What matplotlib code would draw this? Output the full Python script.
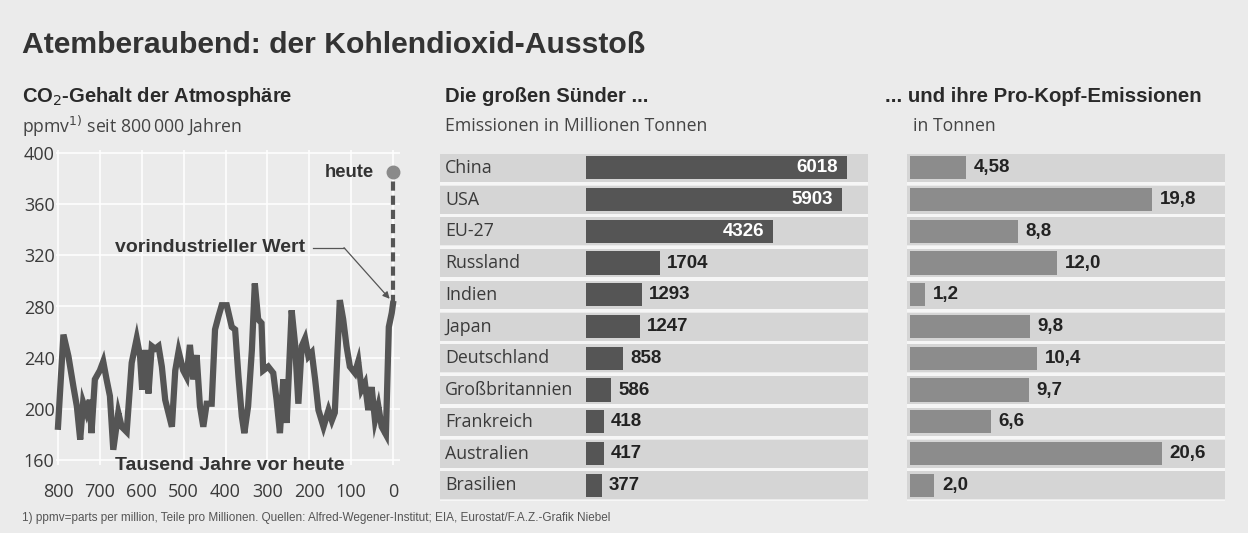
import matplotlib
matplotlib.use('Agg')
import matplotlib.pyplot as plt
from matplotlib import font_manager as fm


def pick(names):
    for n in names:
        try:
            fm.findfont(fm.FontProperties(family=n), fallback_to_default=False)
            return n
        except Exception:
            pass
    return 'DejaVu Sans'


HEAD = pick(['Liberation Sans', 'DejaVu Sans'])
BODY = pick(['Open Sans', 'Noto Sans', 'DejaVu Sans'])
NARROW = pick(['Liberation Sans Narrow', 'Liberation Sans', 'DejaVu Sans'])

# ---------------- data ----------------
co2_ka = [800, 787, 775, 763, 755, 747, 740, 732, 724, 720,
          712, 700, 692, 684, 676, 668, 656, 648, 636, 624,
          612, 604, 599, 591, 584, 576, 568, 560, 552, 544,
          528, 520, 512, 501, 493, 485, 477, 469, 461, 453,
          445, 433, 425, 417, 409, 397, 385, 377, 369, 361,
          355, 346, 337, 330, 322, 314, 310, 298, 286, 278,
          270, 262, 254, 242, 234, 226, 218, 210, 202, 194,
          186, 178, 166, 154, 146, 139, 127, 119, 111, 103,
          91, 83, 75, 67, 59, 51, 43, 35, 27, 17,
          10, 3, 0]
co2_ppm = [186, 258, 241, 217, 202, 176, 205, 197, 207, 181,
           223, 230, 237, 223, 210, 168, 197, 186, 182, 236,
           255, 241, 215, 246, 212, 249, 247, 249, 233, 207,
           186, 230, 245, 230, 225, 250, 223, 242, 202, 186,
           204, 204, 262, 272, 281, 281, 264, 262, 225, 194,
           181, 202, 246, 298, 270, 267, 230, 233, 228, 207,
           181, 223, 189, 277, 251, 204, 249, 255, 241, 244,
           223, 199, 186, 199, 191, 197, 285, 270, 249, 233,
           228, 237, 215, 220, 199, 217, 191, 202, 186, 180,
           264, 275, 282]
today_ppm = 385
preindustrial_ppm = 282
co2_yticks = [160, 200, 240, 280, 320, 360, 400]
co2_xticks = [800, 700, 600, 500, 400, 300, 200, 100, 0]

countries = ['China', 'USA', 'EU-27', 'Russland', 'Indien', 'Japan', 'Deutschland',
             'Großbritannien', 'Frankreich', 'Australien', 'Brasilien']
emissions = [6018, 5903, 4326, 1704, 1293, 1247, 858, 586, 418, 417, 377]
per_capita = [4.58, 19.8, 8.8, 12.0, 1.2, 9.8, 10.4, 9.7, 6.6, 20.6, 2.0]
per_capita_labels = ['4,58', '19,8', '8,8', '12,0', '1,2', '9,8', '10,4', '9,7',
                     '6,6', '20,6', '2,0']

# ---------------- figure ----------------
W, H = 1248, 533
BG = '#ebebeb'
fig = plt.figure(figsize=(W / 100, H / 100), dpi=100, facecolor=BG)


def px_axes(x0, y0, x1, y1):
    return fig.add_axes([x0 / W, 1 - y1 / H, (x1 - x0) / W, (y1 - y0) / H])


def ftext(x, y, s, **kw):
    return fig.text(x / W, 1 - y / H, s, **kw)


# titles
ftext(22, 45, 'Atemberaubend: der Kohlendioxid-Ausstoß', family=HEAD, weight='bold',
      fontsize=21.7, color='#333333', va='center', ha='left')
ftext(22, 97, 'CO$_2$-Gehalt der Atmosphäre', family=HEAD, weight='bold',
      fontsize=14.5, color='#2a2a2a', va='center')
ftext(22, 126, 'ppmv$^{1)}$ seit 800\u2009000 Jahren', family=BODY, fontsize=12.7,
      color='#444444', va='center')
ftext(445, 97, 'Die großen Sünder ...', family=HEAD, weight='bold',
      fontsize=14.6, color='#2a2a2a', va='center')
ftext(445, 126, 'Emissionen in Millionen Tonnen', family=BODY, fontsize=12.7,
      color='#444444', va='center')
ftext(885, 97, '... und ihre Pro-Kopf-Emissionen', family=HEAD, weight='bold',
      fontsize=14.7, color='#2a2a2a', va='center')
ftext(913, 126, 'in Tonnen', family=BODY, fontsize=12.7, color='#444444', va='center')
ftext(22, 518, '1) ppmv=parts per million, Teile pro Millionen. Quellen: Alfred-Wegener-Institut; '
      'EIA, Eurostat/F.A.Z.-Grafik Niebel', family=NARROW, fontsize=8.5,
      color='#555555', va='center')

# ---------------- left: CO2 line ----------------
kpx = 335 / 800.0       # px per thousand years
ppx = 307 / 240.0       # px per ppm
ax1 = px_axes(56, 150, 400, 465)
ax1.set_facecolor(BG)
ax1.set_xlim(800 + 2 / kpx, 0 - 7 / kpx)
ax1.set_ylim(160 - 5 / ppx, 400 + 3 / ppx)
for s in ax1.spines.values():
    s.set_visible(False)
ax1.set_xticks(co2_xticks)
ax1.set_yticks(co2_yticks)
ax1.grid(True, color='white', lw=1.3, alpha=0.85)
ax1.set_axisbelow(True)
ax1.tick_params(length=0, labelsize=13, labelcolor='#3a3a3a', pad=1)
ax1.tick_params(axis='x', pad=13)
for lab in ax1.get_xticklabels() + ax1.get_yticklabels():
    lab.set_family(BODY)

ax1.plot(co2_ka, co2_ppm, color='#555555', lw=4.5, solid_joinstyle='miter',
         clip_on=False, zorder=3)
ax1.plot([0, 0], [preindustrial_ppm, today_ppm - 4], color='#555555', lw=3,
         dashes=(2.2, 1.2), zorder=3, clip_on=False)
ax1.plot([0], [today_ppm], 'o', ms=9, color='#8a8a8a', zorder=4, clip_on=False)
ax1.text(45, today_ppm, 'heute', family=HEAD, weight='bold', fontsize=13.3,
         color='#333333', ha='right', va='center')
ax1.text(210, 326, 'vorindustrieller Wert', family=HEAD, weight='bold', fontsize=14,
         color='#333333', ha='right', va='center')
ax1.plot([190, 117], [326, 326], color='#555555', lw=0.9, zorder=3)
ax1.annotate('', xy=(8, preindustrial_ppm + 4), xytext=(117, 326),
             arrowprops=dict(arrowstyle='-|>', color='#555555', lw=0.9,
                             mutation_scale=10, shrinkA=0, shrinkB=0))
ax1.text(389, 160 - 6 / ppx, 'Tausend Jahre vor heute', family=HEAD, weight='bold',
         fontsize=14, color='#333333', ha='center', va='center', clip_on=False)

# ---------------- bar panels ----------------
rows = list(range(len(countries)))
row_px = 31.75
top_c = 167.8


def row_axes(x0, x1):
    y0 = top_c - 0.5 * row_px
    y1 = top_c + (len(rows) - 0.5) * row_px
    ax = px_axes(x0, y0, x1, y1)
    ax.set_ylim(len(rows) - 0.5, -0.5)
    ax.axis('off')
    return ax


# middle
epx = 261 / 6018.0
ax2 = row_axes(440, 868)
x_lo, x_hi = -(585.7 - 440) / epx, (868 - 585.7) / epx
ax2.set_xlim(x_lo, x_hi)
ax2.barh(rows, [x_hi - x_lo] * len(rows), left=x_lo, height=0.88, color='#d5d5d5', zorder=1)
ax2.barh([r + 0.5 for r in rows], [x_hi - x_lo] * len(rows), left=x_lo, height=0.1,
         color='#f6f6f6', zorder=1)
ax2.barh(rows, emissions, height=0.73, color='#555555', zorder=2)
for r, name, v in zip(rows, countries, emissions):
    ax2.text(x_lo + 5 / epx, r, name, family=BODY, fontsize=12.8, color='#3a3a3a',
             ha='left', va='center', zorder=3)
    if v > 3000:
        ax2.text(v - 9 / epx, r, f'{v}', family=HEAD, weight='bold', fontsize=13.5,
                 color='white', ha='right', va='center', zorder=3)
    else:
        ax2.text(v + 7 / epx, r, f'{v}', family=HEAD, weight='bold', fontsize=13.5,
                 color='#222222', ha='left', va='center', zorder=3)

# right
cpx = 251.7 / 20.6
ax3 = row_axes(907, 1225)
c_lo, c_hi = -(910 - 907) / cpx, (1225 - 910) / cpx
ax3.set_xlim(c_lo, c_hi)
ax3.barh(rows, [c_hi - c_lo] * len(rows), left=c_lo, height=0.88, color='#d5d5d5', zorder=1)
ax3.barh([r + 0.5 for r in rows], [c_hi - c_lo] * len(rows), left=c_lo, height=0.1,
         color='#f6f6f6', zorder=1)
ax3.barh(rows, per_capita, height=0.73, color='#8c8c8c', zorder=2)
for r, v, lab in zip(rows, per_capita, per_capita_labels):
    ax3.text(v + 8 / cpx, r, lab, family=HEAD, weight='bold', fontsize=13.5,
             color='#222222', ha='left', va='center', zorder=3)

fig.savefig('out.png', dpi=100, facecolor=BG)
